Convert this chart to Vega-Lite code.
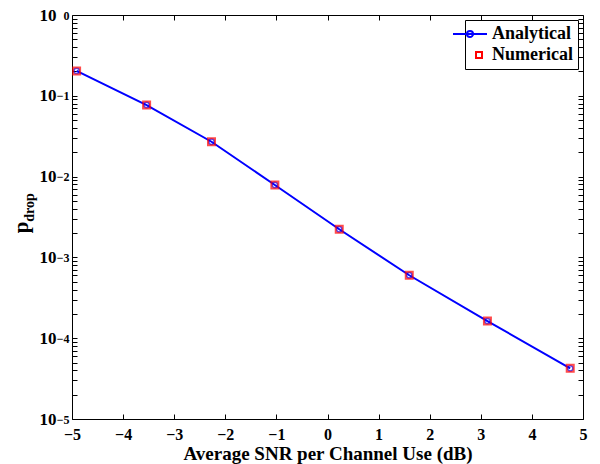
{
  "$schema": "https://vega.github.io/schema/vega-lite/v6.json",
  "autosize": "none",
  "width": 511,
  "height": 404,
  "padding": {"left": 72, "top": 15, "right": 17, "bottom": 45},
  "background": "white",
  "config": {
    "view": {"stroke": "black", "strokeWidth": 1},
    "font": "Liberation Serif",
    "axis": {
      "domain": false,
      "tickColor": "black",
      "labelColor": "black",
      "titleColor": "black",
      "grid": false,
      "labelFont": "Liberation Serif",
      "labelFontWeight": "bold",
      "labelFontSize": 16,
      "titleFont": "Liberation Serif",
      "titleFontWeight": "bold",
      "titleFontSize": 19,
      "tickSize": 5,
      "offset": -5
    }
  },
  "data": {
    "values": [
      {"series": "Analytical", "snr": -4.91, "p": 0.203},
      {"series": "Analytical", "snr": -3.54, "p": 0.0769},
      {"series": "Analytical", "snr": -2.27, "p": 0.0270},
      {"series": "Analytical", "snr": -1.03, "p": 0.00787},
      {"series": "Analytical", "snr": 0.23, "p": 0.00223},
      {"series": "Analytical", "snr": 1.6, "p": 0.000601},
      {"series": "Analytical", "snr": 3.13, "p": 0.000163},
      {"series": "Analytical", "snr": 4.75, "p": 0.0000424},
      {"series": "Numerical", "snr": -4.91, "p": 0.203},
      {"series": "Numerical", "snr": -3.54, "p": 0.0769},
      {"series": "Numerical", "snr": -2.27, "p": 0.0270},
      {"series": "Numerical", "snr": -1.03, "p": 0.00787},
      {"series": "Numerical", "snr": 0.23, "p": 0.00223},
      {"series": "Numerical", "snr": 1.6, "p": 0.000601},
      {"series": "Numerical", "snr": 3.13, "p": 0.000163},
      {"series": "Numerical", "snr": 4.75, "p": 0.0000424}
    ]
  },
  "resolve": {"axis": {"x": "independent", "y": "independent"}},
  "layer": [
    {
      "transform": [{"filter": "datum.series === 'Analytical'"}],
      "mark": {"type": "line", "strokeWidth": 2},
      "encoding": {
        "x": {
          "field": "snr", "type": "quantitative",
          "scale": {"domain": [-5, 5], "nice": false, "zero": false},
          "axis": {"orient": "bottom", "values": [-5,-4,-3,-2,-1,0,1,2,3,4,5], "format": "d", "labelPadding": 7, "title": "Average SNR per Channel Use (dB)", "titlePadding": 2, "labelOverlap": false, "labelFlush": false}
        },
        "y": {
          "field": "p", "type": "quantitative",
          "scale": {"type": "log", "domain": [0.00001, 1], "nice": false},
          "axis": {
            "orient": "left",
            "values": [0.00001,0.00002,0.00003,0.00004,0.00005,0.00006,0.00007,0.00008,0.00009,0.0001,0.0002,0.0003,0.0004,0.0005,0.0006,0.0007,0.0008,0.0009,0.001,0.002,0.003,0.004,0.005,0.006,0.007,0.008,0.009,0.01,0.02,0.03,0.04,0.05,0.06,0.07,0.08,0.09,0.1,0.2,0.3,0.4,0.5,0.6,0.7,0.8,0.9,1],
            "labelExpr": "abs(log(datum.value)/LN10 - round(log(datum.value)/LN10)) < 0.000001 ? '10' : ''",
            "labelOverlap": false,
            "labelFontSize": 17,
            "labelPadding": 16,
            "title": "p",
            "titleFontSize": 21,
            "titleX": -50,
            "titleY": 212,
            "titleAlign": "center",
            "titleBaseline": "alphabetic",
            "titleAngle": 270
          }
        },
        "color": {
          "field": "series", "type": "nominal",
          "scale": {"domain": ["Analytical", "Numerical"], "range": ["#0000ff", "#ff0000"]},
          "legend": {
            "title": null,
            "orient": "top-right",
            "offset": 5,
            "strokeColor": "black",
            "fillColor": "white",
            "padding": 5,
            "labelFont": "Liberation Serif",
            "labelFontWeight": "bold",
            "labelFontSize": 18,
            "labelColor": "black",
            "symbolSize": 1089,
            "rowPadding": 3,
            "labelOffset": 4,
            "encode": {
              "symbols": {
                "update": {
                  "shape": {"signal": "datum.value === 'Analytical' ? 'M-1.53,0L0.47,0M-0.71,0A0.18,0.18,0,1,0,-0.35,0A0.18,0.18,0,1,0,-0.71,0' : 'square'"},
                  "size": {"signal": "datum.value === 'Analytical' ? 1156 : 36"},
                  "stroke": {"signal": "datum.value === 'Analytical' ? '#0000ff' : '#ff0000'"},
                  "strokeWidth": {"value": 2},
                  "fill": {"value": "transparent"},
                  "opacity": {"value": 1}
                }
              }
            }
          }
        }
      }
    },
    {
      "transform": [{"filter": "datum.series === 'Analytical'"}],
      "mark": {"type": "point", "shape": "circle", "filled": false, "size": 28, "strokeWidth": 1.5},
      "encoding": {
        "x": {"field": "snr", "type": "quantitative", "axis": null},
        "y": {
          "field": "p", "type": "quantitative",
          "axis": {
            "orient": "left",
            "ticks": false,
            "tickSize": 0,
            "values": [0.00001,0.0001,0.001,0.01,0.1,1],
            "labelExpr": "['0','−1','−2','−3','−4','−5'][-round(log(datum.value)/LN10)]",
            "labelFontSize": 12,
            "labelPadding": 8,
            "labelDy": -7,
            "labelOverlap": false,
            "title": "drop",
            "titleFontSize": 14,
            "titleX": -44,
            "titleY": 192,
            "titleAlign": "center",
            "titleBaseline": "alphabetic",
            "titleAngle": 270
          }
        },
        "color": {"field": "series", "type": "nominal"}
      }
    },
    {
      "transform": [{"filter": "datum.series === 'Numerical'"}],
      "mark": {"type": "point", "shape": "square", "filled": false, "size": 49, "strokeWidth": 2},
      "encoding": {
        "x": {
          "field": "snr", "type": "quantitative",
          "axis": {"orient": "top", "values": [-4,-3,-2,-1,0,1,2,3,4], "labels": false, "title": null}
        },
        "y": {
          "field": "p", "type": "quantitative",
          "axis": {
            "orient": "right", "labels": false, "title": null,
            "values": [0.00001,0.00002,0.00003,0.00004,0.00005,0.00006,0.00007,0.00008,0.00009,0.0001,0.0002,0.0003,0.0004,0.0005,0.0006,0.0007,0.0008,0.0009,0.001,0.002,0.003,0.004,0.005,0.006,0.007,0.008,0.009,0.01,0.02,0.03,0.04,0.05,0.06,0.07,0.08,0.09,0.1,0.2,0.3,0.4,0.5,0.6,0.7,0.8,0.9,1]
          }
        },
        "color": {"field": "series", "type": "nominal"}
      }
    }
  ]
}
